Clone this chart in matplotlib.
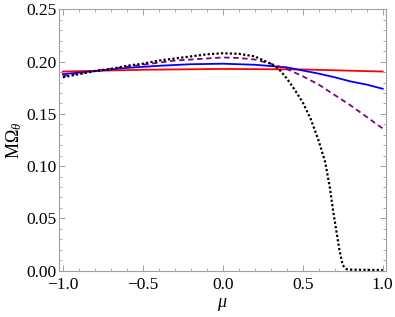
import matplotlib
matplotlib.use("Agg")
import matplotlib.pyplot as plt
from matplotlib.ticker import MultipleLocator, FuncFormatter

plt.rcParams['font.family'] = ['Liberation Serif', 'DejaVu Serif']
plt.rcParams['mathtext.fontset'] = 'custom'
plt.rcParams['mathtext.rm'] = 'Liberation Serif'
plt.rcParams['mathtext.it'] = 'Liberation Serif:italic'

# values
mu_red = [-1.0, -0.5, 0.0, 0.5, 1.0]
om_red = [0.1905, 0.1922, 0.1930, 0.1925, 0.1905]

mu_blue = [-1.0, -0.8, -0.6, -0.4, -0.2, 0.0, 0.2, 0.4, 0.5, 0.6, 0.7, 0.8, 0.9, 1.0]
om_blue = [0.188, 0.191, 0.194, 0.196, 0.1975, 0.198, 0.197, 0.1945, 0.1915, 0.1885,
           0.185, 0.181, 0.178, 0.174]

mu_purple = [-1.0, -0.9, -0.8, -0.7, -0.6, -0.5, -0.4, -0.3, -0.2, -0.1, 0.0,
             0.1, 0.2, 0.3, 0.4, 0.5, 0.6, 0.7, 0.8, 0.9, 1.0]
om_purple = [0.186, 0.189, 0.191, 0.193, 0.195, 0.197, 0.199, 0.201, 0.202, 0.203,
             0.204, 0.2035, 0.202, 0.198, 0.193, 0.186, 0.178, 0.168, 0.158, 0.147, 0.136]

mu_black = [-1.0, -0.9, -0.8, -0.7, -0.6, -0.5, -0.4, -0.3, -0.2, -0.1, 0.0, 0.1,
            0.2, 0.3, 0.35, 0.4, 0.45, 0.5, 0.55, 0.6, 0.64, 0.67, 0.69, 0.71,
            0.73, 0.75, 0.775, 0.8, 0.9, 1.0]
om_black = [0.185, 0.188, 0.191, 0.193, 0.196, 0.198, 0.201, 0.203, 0.205, 0.207,
            0.208, 0.2075, 0.205, 0.198, 0.193, 0.184, 0.173, 0.161, 0.145, 0.124,
            0.104, 0.079, 0.057, 0.038, 0.019, 0.005, 0.0012, 0.0008, 0.0006, 0.0005]

fig = plt.figure(figsize=(3.95, 3.17), dpi=100)
ax = fig.add_axes([0.149, 0.145, 0.828, 0.827])

ax.plot(mu_red, om_red, color='#ff0000', lw=1.3)
ax.plot(mu_blue, om_blue, color='#0000ff', lw=1.3)
ax.plot(mu_purple, om_purple, color='#800080', lw=1.3, linestyle=(0, (3, 2)))
ax.plot(mu_black, om_black, color='black', lw=1.6, linestyle=(0, (1, 1)))

ax.set_xlim(-1.025, 1.02)
ax.set_ylim(-0.0005, 0.2505)

def fmt(nd):
    return FuncFormatter(lambda v, p: ('%.*f' % (nd, v)).replace('-', '\u2212'))

ax.xaxis.set_major_locator(MultipleLocator(0.5))
ax.xaxis.set_minor_locator(MultipleLocator(0.1))
ax.yaxis.set_major_locator(MultipleLocator(0.05))
ax.yaxis.set_minor_locator(MultipleLocator(0.01))
ax.xaxis.set_major_formatter(fmt(1))
ax.yaxis.set_major_formatter(fmt(2))

for s in ax.spines.values():
    s.set_color('#a0a0a0')
    s.set_linewidth(0.8)
ax.tick_params(which='both', direction='in', top=True, right=True,
               color='#a0a0a0', labelsize=12.5, labelcolor='black')
ax.tick_params(which='major', length=4, width=0.7)
ax.tick_params(axis='x', which='major', pad=4.5)
ax.tick_params(axis='y', which='major', pad=1.5)
ax.tick_params(which='minor', length=2, width=0.6)

ax.set_xlabel(r'$\mu$', fontsize=13, labelpad=2)
ax.set_ylabel(r'M$\Omega_\theta$', fontsize=13, labelpad=2)

fig.savefig('out.png', dpi=100)
